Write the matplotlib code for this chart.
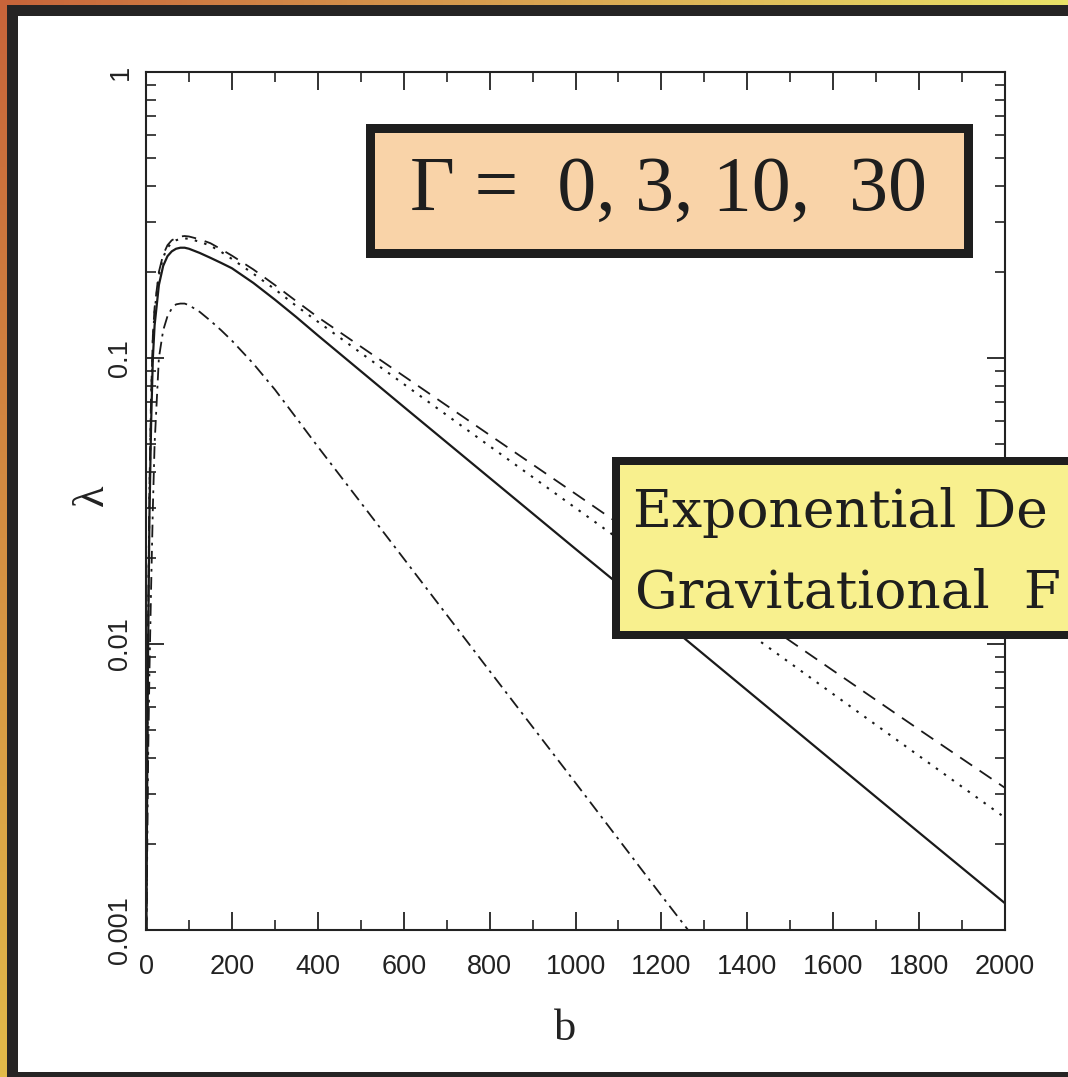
import matplotlib.pyplot as plt
import numpy as np
from matplotlib.patches import Rectangle
from matplotlib.ticker import MultipleLocator, LogLocator, NullFormatter

# valeurs (b, lambda) pour les quatre valeurs de Gamma
b = [1, 3, 5, 8, 12, 16, 20, 30, 40, 50, 60, 70, 80, 90, 100, 125, 150, 175, 200,
     250, 300, 350, 400, 600, 800, 1000, 1200, 1400, 1600, 1800, 2000]
lam_solid = [0.001, 0.004, 0.01, 0.028, 0.06, 0.1, 0.13, 0.18, 0.21, 0.227, 0.236,
             0.241, 0.243, 0.243, 0.241, 0.233, 0.224, 0.215, 0.206, 0.183, 0.16,
             0.139, 0.12, 0.0675, 0.0381, 0.0215, 0.0122, 0.00688, 0.00388,
             0.00219, 0.00124]
lam_dashed = [0.001, 0.005, 0.012, 0.035, 0.075, 0.12, 0.15, 0.2, 0.23, 0.248, 0.258,
              0.263, 0.266, 0.267, 0.266, 0.26, 0.252, 0.24, 0.228, 0.204, 0.18,
              0.158, 0.139, 0.0865, 0.0538, 0.0335, 0.0208, 0.013, 0.00807,
              0.00502, 0.00314]
lam_dotted = [0.001, 0.0048, 0.0115, 0.033, 0.072, 0.115, 0.145, 0.195, 0.225, 0.243,
              0.253, 0.258, 0.261, 0.262, 0.261, 0.255, 0.247, 0.235, 0.222, 0.197,
              0.174, 0.152, 0.134, 0.0811, 0.0492, 0.0299, 0.0182, 0.011, 0.00668,
              0.00406, 0.00247]
lam_dashdot = [0.001, 0.002, 0.004, 0.008, 0.016, 0.03, 0.05, 0.1, 0.125, 0.14, 0.149,
               0.154, 0.155, 0.155, 0.153, 0.145, 0.135, 0.125, 0.115, 0.0955,
               0.0776, 0.0617, 0.049, 0.0199, 0.00805, 0.00327, 0.00132, 0.00054,
               0.00022, 0.00009, 0.00004]

x_ticks = [0, 200, 400, 600, 800, 1000, 1200, 1400, 1600, 1800, 2000]
y_ticks = [0.001, 0.01, 0.1, 1]
y_labels = ['0.001', '0.01', '0.1', '1']
titre_gamma = 'Γ =  0, 3, 10,  30'
lignes_jaune = ['Exponential De', 'Gravitational  F']

W, H = 1068, 1077
fig = plt.figure(figsize=(W / 100, H / 100), dpi=100)

def fx(px):
    return px / W

def fy(py):
    return 1 - py / H

# fond: cadre en dégradé orange / jaune
fond = fig.add_axes([0, 0, 1, 1])
fond.axis('off')
tx, ty = np.meshgrid(np.linspace(0, 1, 200), np.linspace(0, 1, 200))
tl = np.array([200, 100, 58]) / 255
tr = np.array([234, 226, 104]) / 255
bl = np.array([226, 186, 74]) / 255
br = np.array([238, 228, 110]) / 255
img = (tl * ((1 - tx) * (1 - ty))[..., None] + tr * (tx * (1 - ty))[..., None]
       + bl * ((1 - tx) * ty)[..., None] + br * (tx * ty)[..., None])
fond.imshow(img, extent=[0, 1, 0, 1], aspect='auto', origin='upper')
fond.add_patch(Rectangle((fx(7), 0), 1, fy(5), color='#262424', lw=0))
fond.add_patch(Rectangle((fx(18), fy(1072)), 1, fy(16) - fy(1072), color='white', lw=0))
fond.set_xlim(0, 1)
fond.set_ylim(0, 1)

# graphe principal
ax = fig.add_axes([fx(146), fy(930), fx(1005) - fx(146), fy(72) - fy(930)])
ax.set_facecolor('none')
ax.plot(b, lam_solid, color='#1a1a1a', lw=1.6, ls='-')
ax.plot(b, lam_dashed, color='#1a1a1a', lw=1.3, ls=(0, (8, 5)))
ax.plot(b, lam_dotted, color='#1a1a1a', lw=1.5, ls=(0, (1.2, 3.5)))
ax.plot(b, lam_dashdot, color='#1a1a1a', lw=1.3, ls=(0, (7, 3, 1.5, 3)))

ax.set_yscale('log')
ax.set_xlim(0, 2000)
ax.set_ylim(0.001, 1)
ax.set_xticks(x_ticks)
ax.xaxis.set_minor_locator(MultipleLocator(100))
ax.set_yticks(y_ticks, labels=y_labels)
ax.yaxis.set_minor_locator(LogLocator(base=10, subs=np.arange(2, 10)))
ax.yaxis.set_minor_formatter(NullFormatter())
ax.tick_params(which='both', direction='in', top=True, right=True, color='#222222')
ax.tick_params(which='major', length=13, width=1.3)
ax.tick_params(which='minor', length=7, width=1.2)
ax.tick_params(axis='x', pad=17)
ax.tick_params(axis='y', pad=9, labelrotation=90)
for lab in ax.get_xticklabels() + ax.get_yticklabels():
    lab.set_fontfamily('Liberation Sans')
    lab.set_fontsize(19.5)
    lab.set_color('#222222')
for lab in ax.get_yticklabels():
    lab.set_va('center')
for sp in ax.spines.values():
    sp.set_linewidth(1.5)
    sp.set_color('#222222')

fig.text(fx(565), fy(1040), 'b', fontsize=32, family='Liberation Serif',
         ha='center', va='baseline', color='#222222')
fig.text(fx(92), fy(495), 'λ', fontsize=32, family='Liberation Serif', rotation=90,
         ha='center', va='center', color='#222222')

# encadré Gamma
bw = 9
fig.patches.append(Rectangle((fx(365 + bw / 2), fy(257 - bw / 2)),
                             fx(972 - bw) - fx(365), fy(123 + bw / 2) - fy(257 - bw / 2),
                             transform=fig.transFigure, facecolor='#f9d3a8',
                             edgecolor='#1e1e1e', lw=bw * 0.72, zorder=5))
fig.text(fx(669), fy(210), titre_gamma, fontsize=56, family='Liberation Serif',
         ha='center', va='baseline', color='#1e1e1e', zorder=6)

# encadré jaune
bw2 = 8
fig.patches.append(Rectangle((fx(612 + bw2 / 2), fy(639 - bw2 / 2)), 1,
                             fy(457 + bw2 / 2) - fy(639 - bw2 / 2),
                             transform=fig.transFigure, facecolor='#f8f08e',
                             edgecolor='#1e1e1e', lw=bw2 * 0.72, zorder=5))
fig.text(fx(633), fy(527), lignes_jaune[0], fontsize=38.5, family='DejaVu Serif',
         ha='left', va='baseline', color='#1e1e1e', zorder=6)
fig.text(fx(635), fy(608), lignes_jaune[1], fontsize=38.5, family='DejaVu Serif',
         ha='left', va='baseline', color='#1e1e1e', zorder=6)

fig.savefig('out.png', dpi=100)
